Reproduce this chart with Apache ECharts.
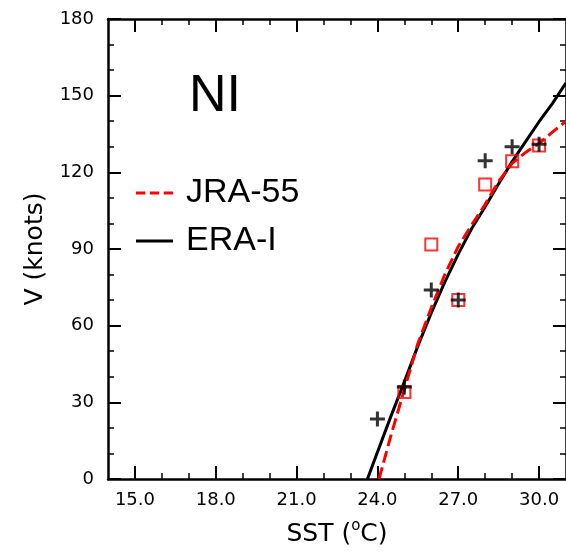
<!DOCTYPE html>
<html><head><meta charset="utf-8">
<script src="https://cdn.jsdelivr.net/npm/echarts@6/dist/echarts.min.js"></script>
<style>html,body{margin:0;padding:0;background:#fff}#c{width:566px;height:552px}</style>
</head><body><div id="c"></div>
<script>
const xMajorTicks = [15, 18, 21, 24, 27, 30];
const xMinorTicks = [16, 17, 19, 20, 22, 23, 25, 26, 28, 29];
const eraSST = [24, 25, 26, 27, 28, 29, 30];
const eraV = [23.5, 36, 74, 70, 124.5, 130, 131];
const jraSST = [25, 26, 27, 28, 29, 30];
const jraV = [34, 91.8, 70, 115.2, 124.3, 130.5];
const eraFitSST = [23.63, 24, 24.5, 25, 25.5, 26, 26.5, 27, 27.5, 28, 28.5, 29, 29.5, 30, 30.5, 31];
const eraFitV = [0, 10.5, 24.5, 38, 52, 65, 77, 88, 98, 106.5, 115.5, 124.2, 132, 139.8, 147, 155];
const jraFitSST = [24.06, 24.5, 25, 25.5, 26, 26.5, 27, 27.5, 28, 28.5, 29, 29.5, 30, 30.5, 31];
const jraFitV = [0, 17, 35, 53, 67, 80, 91, 99.5, 107.5, 116.5, 123.5, 127.8, 131.3, 135.8, 140];

const zip = (a, b) => a.map((v, i) => [v, b[i]]);
const TF = 'DejaVu Sans';
const BIG = 'Liberation Sans';
const xBase = {type: 'value', min: 14, max: 31, gridIndex: 0, splitLine: {show: false}};
const yBase = {type: 'value', min: 0, max: 180, interval: 30, gridIndex: 0, splitLine: {show: false}};
const axLine = {show: true, lineStyle: {color: '#000', width: 2.5}};
const plusPath = 'path://M4,0 H6 V4 H10 V6 H6 V10 H4 V6 H0 V4 H4 Z';
const dashIcon = 'path://M0,0 H9 V3 H0 Z M13.5,0 H22.5 V3 H13.5 Z M27,0 H36 V3 H27 Z';
const solidIcon = 'path://M0,0 H36 V3 H0 Z';

const chart = echarts.init(document.getElementById('c'), null, {renderer: 'canvas'});
chart.setOption({
  animation: false,
  backgroundColor: '#fff',
  grid: {left: 108, top: 19, width: 459, height: 461, containLabel: false},
  title: {text: 'NI', left: 189, top: 71, padding: 0,
    textStyle: {fontSize: 52, fontWeight: 'normal', fontFamily: BIG, color: '#000', lineHeight: 52}},
  legend: {
    orient: 'vertical', left: 136, top: 176, padding: 0,
    itemWidth: 37, itemHeight: 14, itemGap: 14,
    textStyle: {fontSize: 34, fontFamily: BIG, color: '#000', lineHeight: 32, padding: [0, 0, 0, 8]},
    data: [
      {name: 'JRA-55', icon: dashIcon, itemStyle: {color: '#ff0000', borderWidth: 0}},
      {name: 'ERA-I', icon: solidIcon, itemStyle: {color: '#000', borderWidth: 0}}
    ]
  },
  xAxis: [
    Object.assign({}, xBase, {
      position: 'bottom', axisLine: axLine,
      axisTick: {show: true, inside: true, length: 13, customValues: xMajorTicks, lineStyle: {color: '#000', width: 2}},
      axisLabel: {show: true, customValues: xMajorTicks, formatter: v => v.toFixed(1), margin: 12,
        fontSize: 18, fontFamily: TF, color: '#000'},
      name: '{a|SST (}{s|o}{a|C)}', nameLocation: 'middle', nameGap: 40,
      nameTextStyle: {rich: {
        a: {fontSize: 25, fontFamily: TF, color: '#000'},
        s: {fontSize: 15, fontFamily: TF, color: '#000', padding: [0, 0, 16, 0]}
      }}
    }),
    Object.assign({}, xBase, {
      position: 'bottom', axisLine: {show: false},
      axisTick: {show: true, inside: true, length: 6, customValues: xMinorTicks, lineStyle: {color: '#000', width: 1.5}},
      axisLabel: {show: false}
    }),
    Object.assign({}, xBase, {
      position: 'top', axisLine: axLine,
      axisTick: {show: true, inside: true, length: 13, customValues: xMajorTicks, lineStyle: {color: '#000', width: 2}},
      axisLabel: {show: false}
    }),
    Object.assign({}, xBase, {
      position: 'top', axisLine: {show: false},
      axisTick: {show: true, inside: true, length: 6, customValues: xMinorTicks, lineStyle: {color: '#000', width: 1.5}},
      axisLabel: {show: false}
    })
  ],
  yAxis: [
    Object.assign({}, yBase, {
      position: 'left', axisLine: axLine,
      axisTick: {show: true, inside: true, length: 13, lineStyle: {color: '#000', width: 2}},
      minorTick: {show: true, splitNumber: 3, length: 6, lineStyle: {color: '#000', width: 1.5}},
      axisLabel: {show: true, margin: 14, fontSize: 18, fontFamily: TF, color: '#000'},
      name: 'V (knots)', nameLocation: 'middle', nameGap: 60, nameRotate: 90,
      nameTextStyle: {fontSize: 25, fontFamily: TF, color: '#000'}
    }),
    Object.assign({}, yBase, {
      position: 'right', axisLine: axLine,
      axisTick: {show: true, inside: true, length: 13, lineStyle: {color: '#000', width: 2}},
      minorTick: {show: true, splitNumber: 3, length: 6, lineStyle: {color: '#000', width: 1.5}},
      axisLabel: {show: false}
    })
  ],
  series: [
    {name: 'ERA-I', type: 'line', xAxisIndex: 0, yAxisIndex: 0, data: zip(eraFitSST, eraFitV),
      symbol: 'none', smooth: false, clip: true,
      lineStyle: {color: '#000', width: 3}, itemStyle: {color: '#000'}, z: 2},
    {name: 'JRA-55', type: 'line', xAxisIndex: 0, yAxisIndex: 0, data: zip(jraFitSST, jraFitV),
      symbol: 'none', smooth: false, clip: true,
      lineStyle: {color: '#ff0000', width: 3, type: [12, 5]}, itemStyle: {color: '#ff0000'}, z: 3},
    {name: 'JRA-55 obs', type: 'scatter', xAxisIndex: 0, yAxisIndex: 0, data: zip(jraSST, jraV),
      symbol: 'rect', symbolSize: 12,
      itemStyle: {color: 'rgba(0,0,0,0)', borderColor: '#ff0000', borderWidth: 2}, z: 4},
    {name: 'ERA-I obs', type: 'scatter', xAxisIndex: 0, yAxisIndex: 0, data: zip(eraSST, eraV),
      symbol: plusPath, symbolSize: 15,
      itemStyle: {color: '#000'}, z: 5}
  ]
});
</script></body></html>
